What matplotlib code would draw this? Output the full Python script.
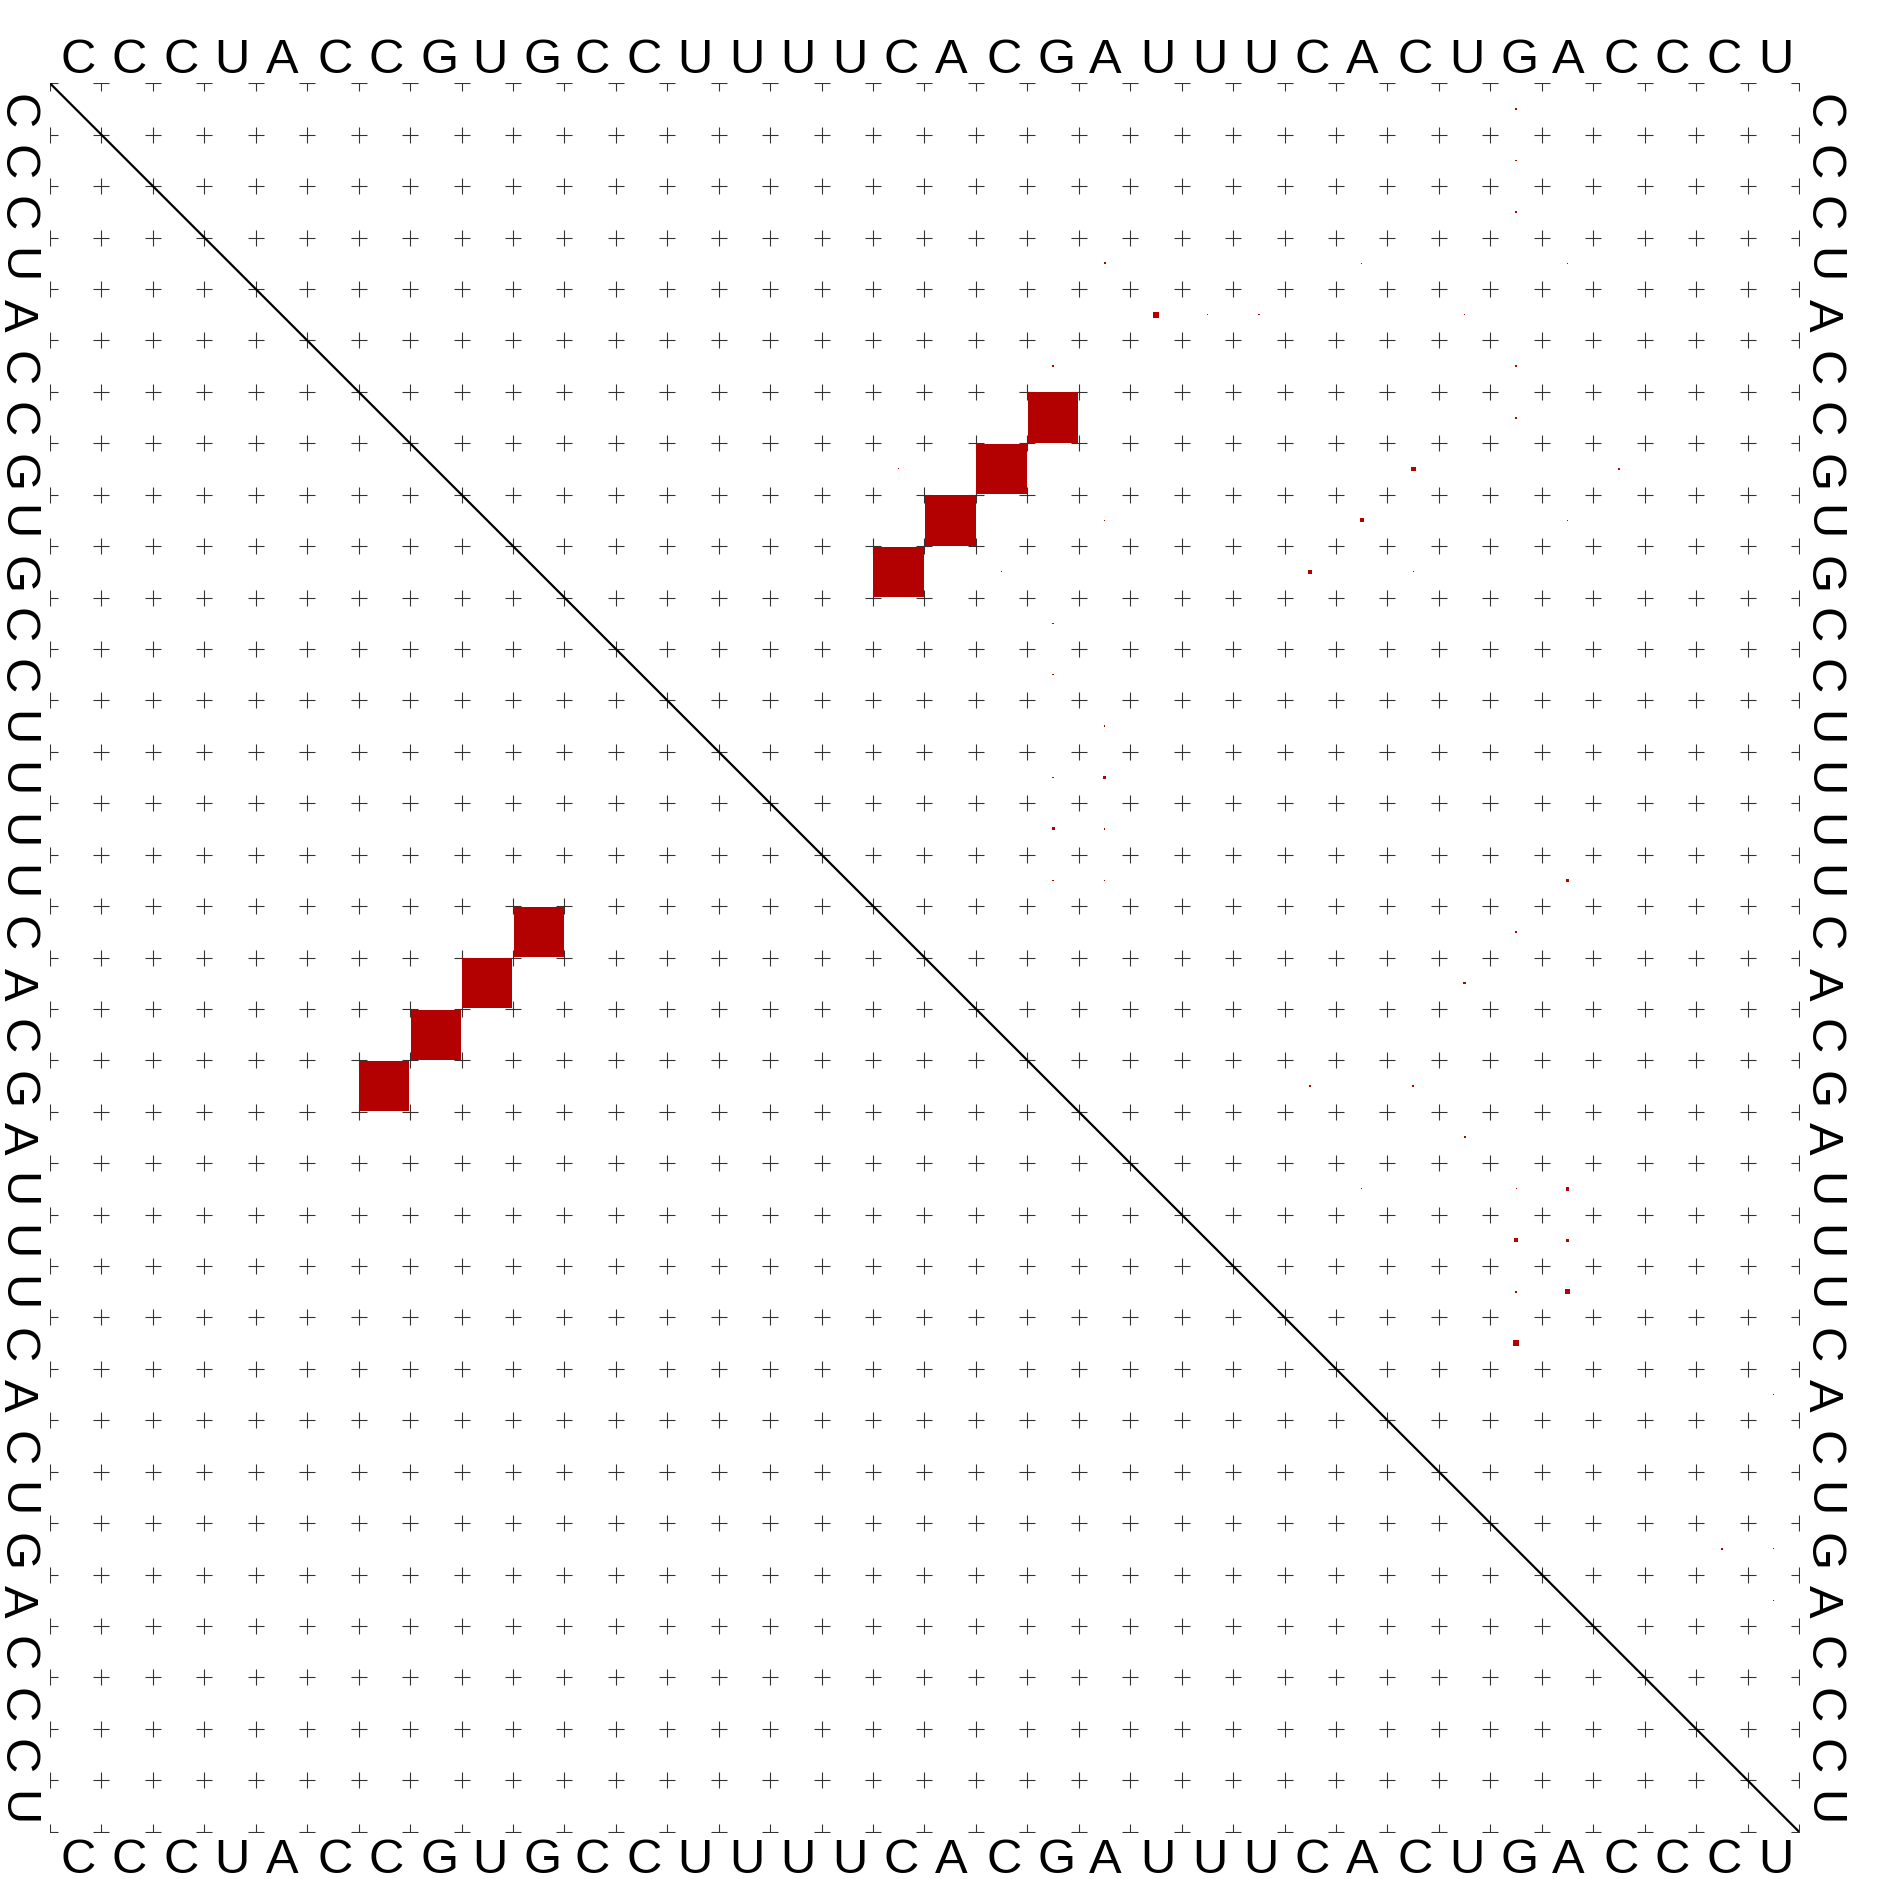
import numpy as np
import matplotlib
matplotlib.use("Agg")
import matplotlib.pyplot as plt
from matplotlib.patches import Rectangle

# sequence along all four sides
seq = "CCCUACCGUGCCUUUUCACGAUUUCACUGACCCU"
n = len(seq)

# base pair probabilities (upper right triangle), pairs (i, j) with i < j
pair_i = [7, 8, 9, 10,
          5, 8, 9, 10, 25, 24, 22, 23, 23, 24,
          14, 15, 16, 17, 18, 21, 20, 20, 6, 6, 7, 3, 1, 2,
          4, 5, 5, 29, 29, 11, 12, 13, 14, 15, 16, 8,
          22, 22, 20, 20, 20, 20, 19, 8,
          1, 2, 3, 4, 4, 4, 4, 5, 8, 8, 8,
          9, 9, 9, 10, 10, 10, 10, 10, 10,
          26, 30, 13, 16, 16, 11, 12, 5, 8, 8, 10, 10]
pair_j = [20, 19, 18, 17,
          22, 27, 26, 25, 29, 30, 30, 29, 30, 29,
          21, 20, 30, 29, 28, 28, 25, 27, 20, 29, 29, 29, 29, 29,
          21, 23, 24, 33, 34, 20, 20, 21, 20, 21, 20, 31,
          29, 26, 24, 28, 31, 32, 29, 17,
          20, 20, 20, 20, 26, 29, 30, 28, 28, 22, 25,
          20, 21, 30, 19, 27, 31, 22, 23, 24,
          34, 34, 30, 21, 29, 29, 29, 34, 32, 33, 32, 33]
pair_p = [0.97, 0.975, 0.975, 0.97,
          0.0136, 0.0083, 0.006, 0.007, 0.0114, 0.0095, 0.0046, 0.006, 0.0024, 0.0015,
          0.0046, 0.0034, 0.0024, 0.0024, 0.0024, 0.0015, 0.0015, 0.0015, 0.0015, 0.0015, 0.0015, 0.0015, 0.0009, 0.0005,
          0.0015, 0.0009, 0.0009, 0.0015, 0.0004, 0.0006, 0.0006, 0.0008, 0.0007, 0.0007, 0.0007, 0.0006,
          0.0004, 0.0003, 0.0002, 0.00015, 0.00015, 0.00015, 0.00025, 0.0004,
          0.0002, 0.0002, 0.0002, 0.0002, 0.0002, 0.0002, 0.0002, 0.0003, 0.0002, 0.0002, 0.0002,
          0.0002, 0.0002, 0.0002, 0.0002, 0.0002, 0.0002, 0.0001, 0.0001, 0.0001,
          0.0001, 0.0001, 0.0001, 0.0001, 0.0001, 0.0001, 0.0001, 0.00005, 0.0001, 0.0001, 0.0001, 0.0001]

# mfe structure pairs (lower left triangle)
mfe_i = [7, 8, 9, 10]
mfe_j = [20, 19, 18, 17]
mfe_p = [0.95, 0.95, 0.95, 0.95]

box_color = "#b30000"
font = "Liberation Sans"
fsize = 35.2

fig = plt.figure(figsize=(18.83, 18.79), dpi=100)
ax = fig.add_axes([50 / 1883, 47.3 / 1879, 1749 / 1883, 1748.4 / 1879])
ax.set_xlim(0.5, n + 0.5)
ax.set_ylim(n + 0.5, 0.5)
ax.axis("off")

# grid crosses at the cell corners
g = np.arange(0.5, n + 1)
gx, gy = np.meshgrid(g, g)
ax.plot(gx.ravel(), gy.ravel(), ls="none", marker="+", ms=11.5, mew=0.8,
        color="#333333", zorder=1)

# diagonal
ax.plot([0.5, n + 0.5], [0.5, n + 0.5], color="black", lw=1.6, zorder=3)

# boxes, side = sqrt(p)
for i, j, p in zip(pair_i, pair_j, pair_p):
    s = np.sqrt(p)
    ax.add_patch(Rectangle((j - s / 2, i - s / 2), s, s, color=box_color,
                           lw=0, zorder=2))
for i, j, p in zip(mfe_i, mfe_j, mfe_p):
    s = np.sqrt(p)
    ax.add_patch(Rectangle((i - s / 2, j - s / 2), s, s, color=box_color,
                           lw=0, zorder=2))

# sequence labels on all sides
for k, ch in enumerate(seq):
    x0 = k + 0.5 + 0.2
    ax.text(x0, 0.5 - 0.2, ch, ha="left", va="baseline", fontsize=fsize,
            family=font, clip_on=False)
    ax.text(x0, n + 0.5 + 0.8, ch, ha="left", va="baseline", fontsize=fsize,
            family=font, clip_on=False)
    ax.text(0.5 - 0.9, x0, ch, ha="left", va="baseline", fontsize=fsize,
            family=font, rotation=-90, rotation_mode="anchor", clip_on=False)
    ax.text(n + 0.5 + 0.2, x0, ch, ha="left", va="baseline", fontsize=fsize,
            family=font, rotation=-90, rotation_mode="anchor", clip_on=False)

fig.savefig("out.png", dpi=100, facecolor="white")
